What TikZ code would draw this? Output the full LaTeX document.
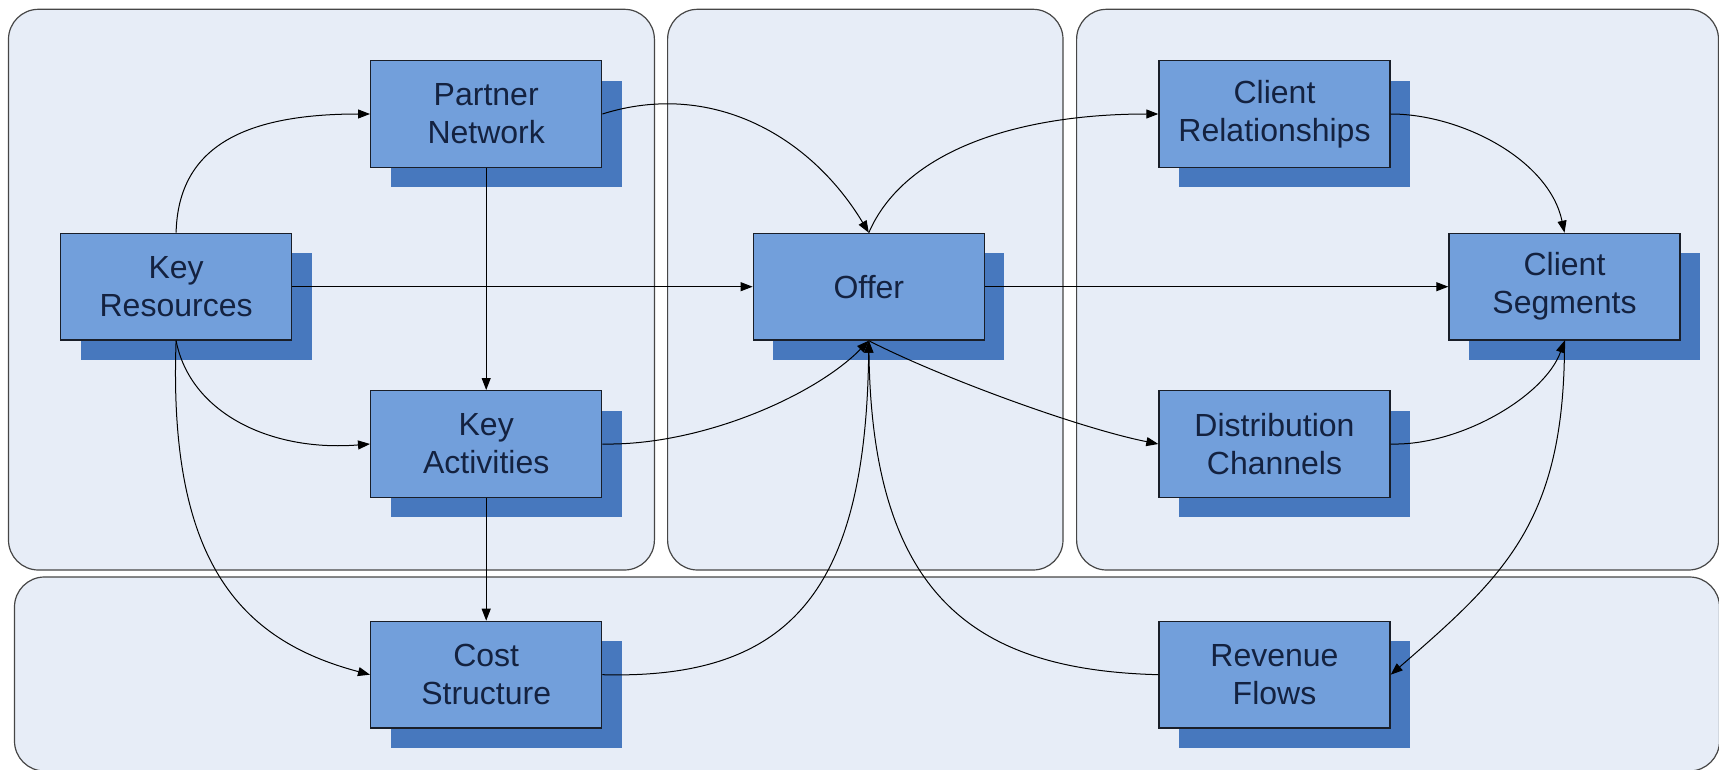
\documentclass[tikz,border=0pt]{standalone}
\usepackage{fontspec}
\setmainfont{Liberation Sans}
\usetikzlibrary{arrows.meta,shadows}

\definecolor{panelfill}{RGB}{231,237,247}
\definecolor{panelline}{RGB}{70,70,70}
\definecolor{boxfill}{RGB}{114,159,219}
\definecolor{boxshadow}{RGB}{71,120,190}
\definecolor{boxline}{RGB}{25,30,40}
\definecolor{boxtext}{RGB}{20,34,64}

\tikzset{
  panel/.style={fill=panelfill, draw=panelline, line width=1.2pt, rounded corners=30pt},
  block/.style={rectangle, fill=boxfill, draw=boxline, line width=1.4pt,
    minimum width=231pt, minimum height=106.6pt, inner sep=0pt,
    align=center, text=boxtext, font=\fontsize{32}{38}\selectfont,
    general shadow={fill=boxshadow, shadow xshift=20pt, shadow yshift=-20pt}},
  link/.style={line width=1pt, draw=black, -{Triangle[length=12pt,width=9pt]}},
}

\begin{document}
\begin{tikzpicture}[x=1pt, y=-1pt]
\useasboundingbox (0,0) rectangle (1719,770);

% background panels
\path[panel] (8.5,9.3) rectangle (654.4,570);
\path[panel] (667.6,9.3) rectangle (1063,570);
\path[panel] (1076.6,9.3) rectangle (1718.5,570);
\path[panel] (14.5,577) rectangle (1719.5,771);

% blocks
\node[block] (kr) at (176.1,286.7) {Key\\Resources};
\node[block] (pn) at (486.2,114) {Partner\\Network};
\node[block] (ka) at (486.2,444) {Key\\Activities};
\node[block] (cs) at (486.2,674.7) {Cost\\Structure};
\node[block] (of) at (868.8,286.7) {Offer};
\node[block] (cr) at (1274.5,114) {Client\\Relationships};
\node[block] (dc) at (1274.5,444) {Distribution\\Channels};
\node[block] (rf) at (1274.5,674.7) {Revenue\\Flows};
\node[block] (sg) at (1564.5,286.7) {Client\\Segments};

% straight connectors
\draw[link] (kr.east) -- (of.west);
\draw[link] (of.east) -- (sg.west);
\draw[link] (pn.south) -- (ka.north);
\draw[link] (ka.south) -- (cs.north);

% curved connectors
\draw[link] (kr.north) .. controls +(2,-83) and +(-130.5,0) .. (pn.west);
\draw[link] (pn.east) .. controls +(108,-34) and +(-59,-98) .. (of.north);
\draw[link] (of.north) .. controls +(36,-83) and +(-139,0) .. (cr.west);
\draw[link] (cr.east) .. controls +(70,0) and +(-15.5,-73.4) .. (sg.north);
\draw[link] (kr.south) .. controls +(14,72) and +(-100,8) .. (ka.west);
\draw[link] (ka.east) .. controls +(98.4,2) and +(-53.8,55) .. (of.south);
\draw[link] (of.south) .. controls +(70,36) and +(-80,-16) .. (dc.west);
\draw[link] (dc.east) .. controls +(70,2) and +(-19.5,55) .. (sg.south);
\draw[link] (kr.south) .. controls +(-8,220) and +(-130.8,-34.7) .. (cs.west);
\draw[link] (cs.east) .. controls +(188.4,5) and +(-2.8,250) .. (of.south);
\draw[link] (rf.west) .. controls +(-179,-4.7) and +(3.2,260) .. (of.south);
\draw[link] (sg.south) .. controls +(0.5,180) and +(115,-99.7) .. (rf.east);
\end{tikzpicture}
\end{document}
